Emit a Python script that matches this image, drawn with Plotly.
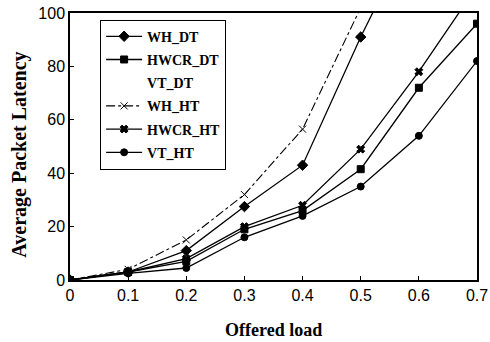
import plotly.graph_objects as go

offered_load = [0, 0.1, 0.2, 0.3, 0.4, 0.5, 0.6, 0.7]
x_tick_labels = ["0", "0.1", "0.2", "0.3", "0.4", "0.5", "0.6", "0.7"]
y_tick_values = [0, 20, 40, 60, 80, 100]

wh_dt = [0, 3, 11, 27.5, 43, 91, 135]
hwcr_dt = [0, 3, 7, 19, 26, 41.5, 72, 96]
vt_dt = [0, 2.5, 4.5, 16, 24, 35, 54, 82]
wh_ht = [0, 4, 15, 32, 56.5, 102]
hwcr_ht = [0, 3, 8, 20, 28, 49, 78, 110]
vt_ht = [0, 2.5, 4.5, 16, 24, 35, 54, 82]

series = [
    ("WH_DT", wh_dt, "solid", "diamond", 8, 1.3, "black"),
    ("HWCR_DT", hwcr_dt, "solid", "square", 7, 1.3, "black"),
    ("VT_DT", vt_dt, "solid", "circle", 0.1, 1.3, "rgba(0,0,0,0)"),
    ("WH_HT", wh_ht, "dashdot", "x-thin-open", 7, 1.1, "black"),
    ("HWCR_HT", hwcr_ht, "solid", "x", 7, 1.3, "black"),
    ("VT_HT", vt_ht, "solid", "circle", 7, 1.3, "black"),
]

fig = go.Figure()
for i, (name, ys, dash, sym, msize, lw, col) in enumerate(series):
    fig.add_trace(go.Scatter(
        x=offered_load[:len(ys)], y=ys, name="<b>" + name + "</b>",
        mode="lines+markers",
        legendgroup=name,
        line=dict(color=col, width=lw, dash=dash),
        marker=dict(symbol=sym, size=msize, color=col,
                    line=dict(color=col, width=1)),
    ))

fig.update_layout(
    width=490, height=342,
    margin=dict(l=70, r=13, t=13, b=62, autoexpand=False),
    paper_bgcolor="white", plot_bgcolor="white",
    showlegend=True,
    legend=dict(
        x=0.074, y=0.975, xanchor="left", yanchor="top",
        bgcolor="white", bordercolor="black", borderwidth=1,
        font=dict(family="Liberation Serif", size=14, color="black"),
        traceorder="grouped", tracegroupgap=2, itemwidth=36,
    ),
    xaxis=dict(
        range=[0, 0.7], tickvals=offered_load, ticktext=x_tick_labels,
        ticks="inside", ticklen=4, tickcolor="black",
        showline=True, linecolor="black", linewidth=1.5, mirror=True,
        showgrid=False, zeroline=False, automargin=False,
        ticklabeloverflow="allow",
        tickfont=dict(family="Liberation Sans", size=16, color="black"),
    ),
    yaxis=dict(
        range=[0, 100], tickvals=y_tick_values,
        ticks="inside", ticklen=4, tickcolor="black",
        showline=True, linecolor="black", linewidth=1.5, mirror=True,
        showgrid=False, zeroline=False, automargin=False,
        ticklabeloverflow="allow",
        tickfont=dict(family="Liberation Sans", size=16, color="black"),
    ),
    annotations=[
        dict(text="<b>Offered load</b>", xref="paper", yref="paper",
             x=0.50, y=-0.187, xanchor="center", yanchor="middle",
             showarrow=False,
             font=dict(family="Liberation Serif", size=18, color="black")),
        dict(text="<b>Average Packet Latency</b>", xref="paper", yref="paper",
             x=-0.125, y=0.47, xanchor="center", yanchor="middle",
             textangle=-90, showarrow=False,
             font=dict(family="Liberation Serif", size=20, color="black")),
    ],
)

fig.write_html(
    "out.html",
    config={"displayModeBar": False},
    post_script="document.body.style.margin='0';document.body.style.overflow='hidden';",
)
